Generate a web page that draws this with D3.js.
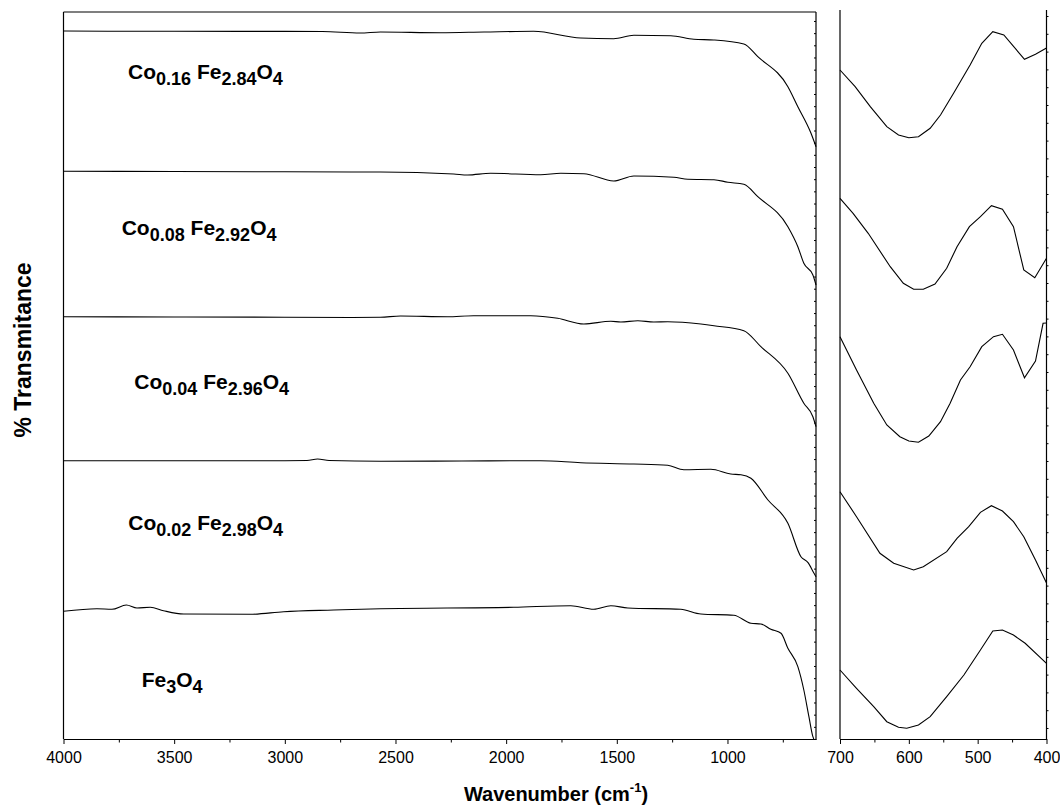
<!DOCTYPE html>
<html>
<head>
<meta charset="utf-8">
<script src="https://cdn.jsdelivr.net/npm/d3@7"></script>
<style>
  html, body { margin: 0; padding: 0; background: #fff; }
  svg { display: block; font-family: Arial, "Liberation Sans", Helvetica, sans-serif; }
</style>
</head>
<body>
<svg id="chart" width="1060" height="809"></svg>
<script>
// ---------------- DATA (arbitrary offset transmittance units) ----------------
// Left panel: full range 4000 - 600 cm^-1
const wnCo016 = [4000,3800,3500,3200,3000,2830,2660,2568,2296,2100,1876,1663,1514,1423,1256,1152,1061,926,863,727,682,623,600];
const tCo016  = [708,707.8,707.7,707.6,707.6,707.5,706,707,706.3,707,707.7,701,700.3,703.7,703.3,699.7,699,695,682.3,652.3,632.3,606,592.3];

const wnCo008 = [4000,3500,3000,2700,2568,2237,2174,2070,1844,1753,1649,1514,1423,1242,1179,1061,998,926,863,727,682,655,614,600];
const tCo008  = [567.7,567.5,567.2,567,567,565,564,565.7,564.3,565.7,565.3,558,563,561.7,559.7,559.3,556.7,554.7,542.3,512.3,492.3,475.7,464,454];

const wnCo004 = [4000,3500,3000,2700,2568,2477,2265,2147,1889,1767,1649,1527,1482,1405,1333,1270,1120,1061,926,849,727,655,614,600];
const tCo004  = [422.3,422,421.8,421.5,421.7,423,422.3,423.3,423.3,420.7,415,417.7,417,418.3,417,417.3,415,413.3,408.3,392.3,365.7,335.7,322.3,312.3];

const wnCo002 = [4000,3500,3000,2900,2852,2800,2568,2200,1844,1663,1423,1270,1197,1075,985,939,894,817,727,668,636,609,600];
const tCo002  = [278.3,278.3,278.3,278.5,280,278.5,277.7,278,278.3,276.3,275,273.7,269.3,269.7,265,264.3,260.7,239,215.7,182.3,176.3,165.7,162.3];

const wnFe3O4 = [4000,3849,3781,3716,3668,3608,3548,3457,3156,3005,2779,2568,1966,1708,1604,1527,1450,1211,1120,971,894,849,804,758,727,682,655,632,614,610];
const tFe3O4  = [127.7,130.3,129.7,134,131,131.7,128.3,125,124.7,127.3,129,130.3,131.7,133.3,129.7,133.3,131,129.7,125,123.7,115.7,115,109.7,105.7,90.7,72.3,49,22.3,2.3,0];

// Right panel: expanded 700 - 400 cm^-1
const wnR016 = [700,678,656,632,615,600,586,569,554,535,511,494,478,462,432,416,400];
const tR016  = [669,652.3,632.3,612.3,604,601.3,602.3,610.7,624,645.7,674,695.7,707.3,704,679.7,684.7,691];

const wnR008 = [700,681,659,627,608,593,579,562,545,530,512,496,480,464,448,433,417,400];
const tR008  = [540.7,525.7,505.7,472.3,455.7,449.7,449.7,455,470.7,492.3,512.3,522.3,533.3,529.7,512.3,469,461.3,480.7];

const wnR004 = [700,676,651,632,613,600,586,571,554,540,525,511,494,477,464,448,432,416,405,400];
const tR004  = [402.3,369,335.7,314,302.3,298,296.7,303,317.3,335.7,359,372.3,392.3,402.3,404.7,389,361.3,378,415.7,416];

const wnR002 = [700,676,642,622,593,579,545,530,513,496,480,464,448,433,416,400];
const tR002  = [247.3,222.3,185.7,175.7,169,172.3,187.3,200.7,212.3,226.7,233.3,228,217.3,202.3,179,156];

const wnRFe = [700,676,651,632,615,603,586,569,545,520,496,478,464,448,431,400];
const tRFe  = [69,50.7,32.3,17.3,11.7,10.7,14,22.3,42.3,64,89,108,109,104,95.7,75.7];

// Sample labels: [text, isSubscript]
const sampleLabels = [
  [["Co",0],["0.16",1],[" Fe",0],["2.84",1],["O",0],["4",1]],
  [["Co",0],["0.08",1],[" Fe",0],["2.92",1],["O",0],["4",1]],
  [["Co",0],["0.04",1],[" Fe",0],["2.96",1],["O",0],["4",1]],
  [["Co",0],["0.02",1],[" Fe",0],["2.98",1],["O",0],["4",1]],
  [["Fe",0],["3",1],["O",0],["4",1]]
];

const leftMajorTicks = [4000,3500,3000,2500,2000,1500,1000];
const leftMinorTicks = [3750,3250,2750,2250,1750,1250,750];
const rightMajorTicks = [700,600,500,400];
const rightMinorTicks = [650,550,450];

const xTitle = "Wavenumber (cm";
const xTitleSup = "-1";
const yTitle = "% Transmitance";

// ---------------- LAYOUT ----------------
const svg = d3.select("#chart");
svg.append("rect").attr("width",1060).attr("height",809).attr("fill","#fff");

const L = {x0: 63.5, x1: 816, y0: 12, y1: 739};
const R = {x0: 840, x1: 1046.5, y0: 10, y1: 739};

const xL = d3.scaleLinear().domain([4000, 600]).range([L.x0, L.x1]);
const yL = d3.scaleLinear().domain([0, 727]).range([L.y1, L.y0]);
const xR = d3.scaleLinear().domain([700, 400]).range([R.x0, R.x1]);
const yR = d3.scaleLinear().domain([0, 729]).range([R.y1, R.y0]);

const leftSeries = [[wnCo016,tCo016],[wnCo008,tCo008],[wnCo004,tCo004],[wnCo002,tCo002],[wnFe3O4,tFe3O4]];
const rightSeries = [[wnR016,tR016],[wnR008,tR008],[wnR004,tR004],[wnR002,tR002],[wnRFe,tRFe]];

// left traces drawn in pixel-x order (ascending) for a smooth monotone curve
const lineL = d3.line().x(d => xL(d[0])).y(d => yL(d[1])).curve(d3.curveMonotoneX);
const lineR = d3.line().x(d => xR(d[0])).y(d => yR(d[1]));

const gTraces = svg.append("g");
leftSeries.forEach(([w,t]) => {
  gTraces.append("path").datum(w.map((v,i) => [v, t[i]]))
    .attr("d", lineL).attr("fill","none").attr("stroke","#000").attr("stroke-width",1.1);
});
rightSeries.forEach(([w,t]) => {
  gTraces.append("path").datum(w.map((v,i) => [v, t[i]]))
    .attr("d", lineR).attr("fill","none").attr("stroke","#000").attr("stroke-width",1.1);
});

// frames
const frame = svg.append("g").attr("stroke","#000").attr("stroke-width",1.2).attr("fill","none");
frame.append("line").attr("x1",L.x0).attr("x2",L.x0).attr("y1",L.y0).attr("y2",L.y1);
frame.append("line").attr("x1",L.x0).attr("x2",L.x1).attr("y1",L.y0).attr("y2",L.y0);
frame.append("line").attr("x1",L.x1).attr("x2",L.x1).attr("y1",L.y0).attr("y2",L.y1);
frame.append("line").attr("x1",R.x0).attr("x2",R.x0).attr("y1",R.y0).attr("y2",R.y1);
frame.append("line").attr("x1",R.x1).attr("x2",R.x1).attr("y1",R.y0).attr("y2",R.y1);

function styleAxis(g) {
  g.select(".domain").attr("stroke","#000").attr("stroke-width",1.2);
  g.selectAll(".tick line").attr("stroke","#000").attr("stroke-width",1);
  g.selectAll(".tick text").attr("font-size","16px").attr("fill","#000")
    .attr("font-family","Arial, 'Liberation Sans', sans-serif");
}

// bottom axes
const axL = svg.append("g").attr("transform",`translate(0,${L.y1})`)
  .call(d3.axisBottom(xL).tickValues(leftMajorTicks).tickSize(5).tickSizeOuter(0).tickPadding(8).tickFormat(d3.format("d")));
styleAxis(axL);
const axLm = svg.append("g").attr("transform",`translate(0,${L.y1})`)
  .call(d3.axisBottom(xL).tickValues(leftMinorTicks).tickSize(3.5).tickSizeOuter(0).tickFormat(""));
styleAxis(axLm);
const axR = svg.append("g").attr("transform",`translate(0,${R.y1})`)
  .call(d3.axisBottom(xR).tickValues(rightMajorTicks).tickSize(5).tickSizeOuter(0).tickPadding(8).tickFormat(d3.format("d")));
styleAxis(axR);
const axRm = svg.append("g").attr("transform",`translate(0,${R.y1})`)
  .call(d3.axisBottom(xR).tickValues(rightMinorTicks).tickSize(3.5).tickSizeOuter(0).tickFormat(""));
styleAxis(axRm);

// small ticks on the right borders
const axLr = svg.append("g").attr("transform",`translate(${L.x1},0)`)
  .call(d3.axisLeft(yL).tickValues(d3.range(12.17, 727, 12.17)).tickSize(2).tickSizeOuter(0).tickFormat(""));
axLr.select(".domain").remove();
axLr.selectAll(".tick line").attr("stroke","#000").attr("stroke-width",1);
const axRr = svg.append("g").attr("transform",`translate(${R.x1},0)`)
  .call(d3.axisRight(yR).tickValues(d3.range(11, 729, 17.8)).tickSize(2).tickSizeOuter(0).tickFormat(""));
axRr.select(".domain").remove();
axRr.selectAll(".tick line").attr("stroke","#000").attr("stroke-width",1);

// sample labels
const labelAnchors = [[128,79],[121.7,235],[134.3,389],[128.3,530],[141.7,687]];
sampleLabels.forEach((parts, i) => {
  const t = svg.append("text").attr("x", labelAnchors[i][0]).attr("y", labelAnchors[i][1])
    .attr("font-weight","bold").attr("font-size","21px").attr("fill","#000")
    .style("white-space","pre");
  let prevSub = false;
  parts.forEach(([s, sub]) => {
    const ts = t.append("tspan").text(s).attr("font-size", sub ? "18px" : "21px");
    if (sub && !prevSub) ts.attr("dy", 6);
    if (!sub && prevSub) ts.attr("dy", -6);
    prevSub = !!sub;
  });
});

// axis titles
const xt = svg.append("text").attr("x", 556).attr("y", 801).attr("text-anchor","middle")
  .attr("font-weight","bold").attr("font-size","20px").attr("fill","#000");
xt.append("tspan").text(xTitle);
xt.append("tspan").text(xTitleSup).attr("font-size","13px").attr("dy",-9);
xt.append("tspan").text(")").attr("dy",9);

svg.append("text").attr("transform","translate(31,350) rotate(-90)").attr("text-anchor","middle")
  .attr("font-weight","bold").attr("font-size","23px").attr("fill","#000").text(yTitle);
</script>
</body>
</html>
